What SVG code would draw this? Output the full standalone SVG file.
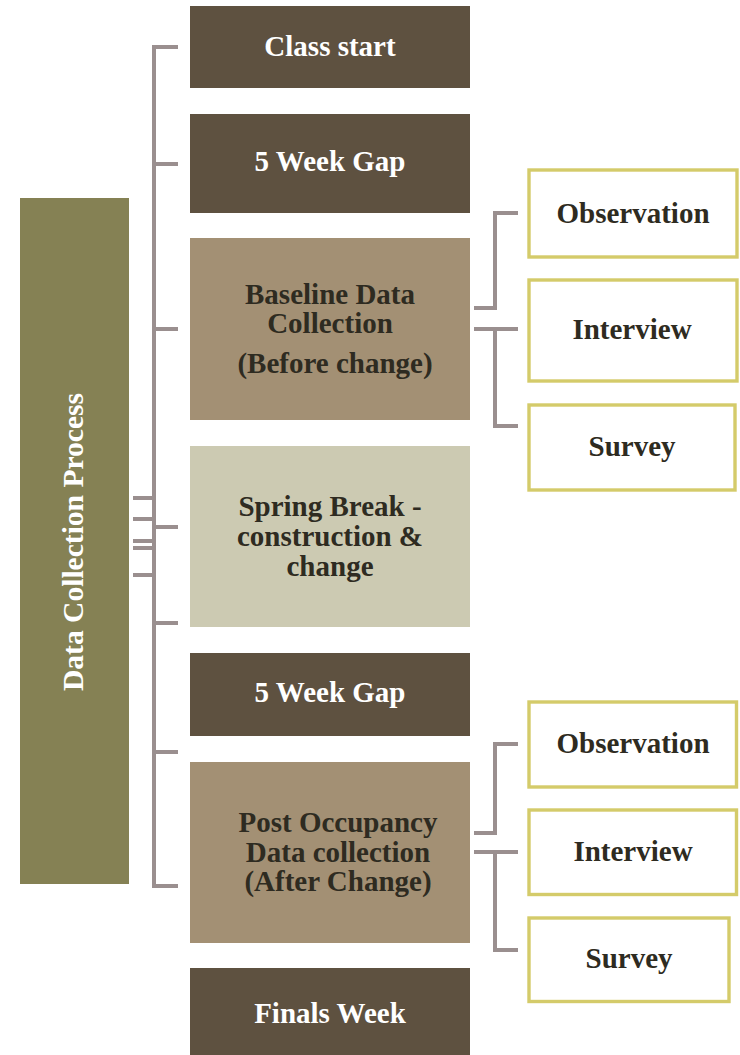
<svg xmlns="http://www.w3.org/2000/svg" width="740" height="1055" viewBox="0 0 740 1055">
<style>
.t{font-family:"Liberation Serif","Times New Roman",serif;font-weight:bold;font-size:29px;text-anchor:middle}
.w{fill:#FFFFFF}
.d{fill:#2E2B21}
.dark{fill:#5E5140}
.tan{fill:#A39074}
.pale{fill:#CCCAB2}
.sub{fill:#FFFFFF;stroke:#D4CB6A;stroke-width:3.4}
.c{fill:none;stroke:#9A8F8F;stroke-width:4;stroke-linejoin:miter}
</style>
<rect width="740" height="1055" fill="#FFFFFF"/>
<g id="connectors">
<path class="c" d="M178,47 H154 V886 H178"/>
<path class="c" d="M154,164 H178 M154,329 H178 M154,527 H178 M154,623 H178 M154,752 H178"/>
<path class="c" d="M133,498 H154 M133,519 H154 M133,541 H154 M133,548 H154 M133,575 H154"/>
<path class="c" d="M474,308 H495 V213 H518"/>
<path class="c" d="M474,329 H518 M495,329 V426 H518"/>
<path class="c" d="M474,833 H495 V744 H518"/>
<path class="c" d="M474,852 H518 M495,852 V950 H518"/>
</g>
<g id="process">
<rect x="20" y="198" width="109" height="686" fill="#858154"/>
<text class="t w" transform="translate(83,542) rotate(-90)" textLength="298" lengthAdjust="spacingAndGlyphs">Data Collection Process</text>
</g>
<g id="class-start">
<rect class="dark" x="190" y="6" width="280" height="82"/>
<text class="t w" x="330" y="56">Class start</text>
</g>
<g id="gap1">
<rect class="dark" x="190" y="114" width="280" height="99"/>
<text class="t w" x="330" y="171">5 Week Gap</text>
</g>
<g id="baseline">
<rect class="tan" x="190" y="238" width="280" height="182"/>
<text class="t d" x="330" y="304">Baseline Data</text>
<text class="t d" x="330" y="333">Collection</text>
<text class="t d" x="335" y="373">(Before change)</text>
</g>
<g id="spring">
<rect class="pale" x="190" y="446" width="280" height="181"/>
<text class="t d" x="330" y="516">Spring Break -</text>
<text class="t d" x="330" y="546">construction &amp;</text>
<text class="t d" x="330" y="576">change</text>
</g>
<g id="gap2">
<rect class="dark" x="190" y="653" width="280" height="83"/>
<text class="t w" x="330" y="702">5 Week Gap</text>
</g>
<g id="post">
<rect class="tan" x="190" y="762" width="280" height="181"/>
<text class="t d" x="338" y="832">Post Occupancy</text>
<text class="t d" x="338" y="862">Data collection</text>
<text class="t d" x="338" y="891">(After Change)</text>
</g>
<g id="finals">
<rect class="dark" x="190" y="968" width="280" height="90"/>
<text class="t w" x="330" y="1023">Finals Week</text>
</g>
<g id="obs1">
<rect class="sub" x="529" y="170" width="208" height="87"/>
<text class="t d" x="633" y="223">Observation</text>
</g>
<g id="int1">
<rect class="sub" x="529" y="280" width="208" height="101"/>
<text class="t d" x="632" y="339">Interview</text>
</g>
<g id="sur1">
<rect class="sub" x="529" y="405" width="206" height="85"/>
<text class="t d" x="632" y="456">Survey</text>
</g>
<g id="obs2">
<rect class="sub" x="529" y="702" width="207.5" height="85"/>
<text class="t d" x="633" y="753">Observation</text>
</g>
<g id="int2">
<rect class="sub" x="529" y="810" width="207.5" height="84.5"/>
<text class="t d" x="633" y="861">Interview</text>
</g>
<g id="sur2">
<rect class="sub" x="529" y="918" width="200" height="83.5"/>
<text class="t d" x="629" y="968">Survey</text>
</g>
</svg>
